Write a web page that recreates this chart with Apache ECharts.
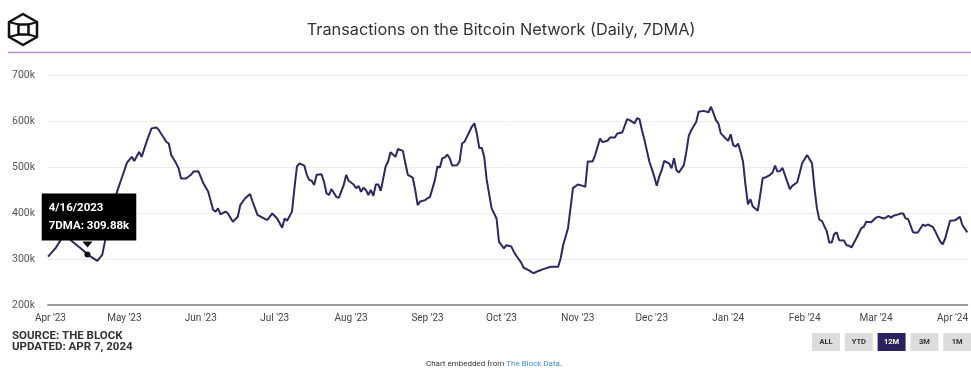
<!DOCTYPE html>
<html>
<head>
<meta charset="utf-8">
<script src="https://cdn.jsdelivr.net/npm/echarts@6/dist/echarts.min.js"></script>
<style>
  html, body { margin: 0; padding: 0; background: #fff; }
  #chart { width: 971px; height: 368px; }
</style>
</head>
<body>
<div id="chart"></div>
<script>
// daily 7DMA transactions (thousands), sampled off the chart
const days = [
  '2023-03-31','2023-04-03','2023-04-05','2023-04-07','2023-04-09','2023-04-14','2023-04-16','2023-04-20','2023-04-22','2023-04-23','2023-04-24','2023-04-26','2023-04-28',
  '2023-05-01','2023-05-02','2023-05-04','2023-05-05','2023-05-07','2023-05-08','2023-05-10','2023-05-12','2023-05-14','2023-05-15','2023-05-18','2023-05-19','2023-05-20','2023-05-22','2023-05-23','2023-05-24','2023-05-26','2023-05-28','2023-05-29','2023-05-31',
  '2023-06-02','2023-06-04','2023-06-06','2023-06-07','2023-06-08','2023-06-09','2023-06-11','2023-06-12','2023-06-14','2023-06-16','2023-06-17','2023-06-19','2023-06-21','2023-06-22','2023-06-24','2023-06-27','2023-06-28','2023-06-30',
  '2023-07-02','2023-07-04','2023-07-05','2023-07-06','2023-07-08','2023-07-09','2023-07-10','2023-07-11','2023-07-13','2023-07-14','2023-07-15','2023-07-16','2023-07-17','2023-07-18','2023-07-20','2023-07-21','2023-07-22','2023-07-23','2023-07-24','2023-07-26','2023-07-27','2023-07-29','2023-07-30','2023-07-31',
  '2023-08-02','2023-08-03','2023-08-04','2023-08-05','2023-08-06','2023-08-07','2023-08-08','2023-08-09','2023-08-10','2023-08-11','2023-08-12','2023-08-13','2023-08-15','2023-08-16','2023-08-17','2023-08-19','2023-08-20','2023-08-22','2023-08-23','2023-08-24','2023-08-26','2023-08-27','2023-08-28','2023-08-29','2023-08-31',
  '2023-09-01','2023-09-02','2023-09-04','2023-09-05','2023-09-06','2023-09-07','2023-09-08','2023-09-09','2023-09-10','2023-09-11','2023-09-13','2023-09-14','2023-09-15','2023-09-16','2023-09-17','2023-09-19','2023-09-20','2023-09-21','2023-09-22','2023-09-23','2023-09-24','2023-09-25','2023-09-27','2023-09-29','2023-09-30',
  '2023-10-02','2023-10-03','2023-10-05','2023-10-06','2023-10-07','2023-10-09','2023-10-10','2023-10-12','2023-10-14','2023-10-16','2023-10-18','2023-10-21','2023-10-24','2023-10-25','2023-10-26','2023-10-28','2023-10-29','2023-10-30',
  '2023-11-01','2023-11-03','2023-11-04','2023-11-05','2023-11-07','2023-11-08','2023-11-10','2023-11-11','2023-11-13','2023-11-14','2023-11-16','2023-11-17','2023-11-19','2023-11-21','2023-11-22','2023-11-24','2023-11-25','2023-11-26','2023-11-27','2023-11-28','2023-11-30',
  '2023-12-02','2023-12-03','2023-12-04','2023-12-05','2023-12-06','2023-12-08','2023-12-09','2023-12-10','2023-12-11','2023-12-12','2023-12-14','2023-12-15','2023-12-16','2023-12-17','2023-12-19','2023-12-20','2023-12-22','2023-12-24','2023-12-25','2023-12-26','2023-12-27','2023-12-28','2023-12-29','2023-12-31',
  '2024-01-01','2024-01-02','2024-01-03','2024-01-04','2024-01-05','2024-01-06','2024-01-07','2024-01-08','2024-01-09','2024-01-10','2024-01-11','2024-01-13','2024-01-14','2024-01-15','2024-01-16','2024-01-18','2024-01-19','2024-01-20','2024-01-21','2024-01-22','2024-01-23','2024-01-24','2024-01-26','2024-01-27','2024-01-29','2024-01-30','2024-01-31',
  '2024-02-02','2024-02-04','2024-02-05','2024-02-06','2024-02-07','2024-02-08','2024-02-10','2024-02-11','2024-02-12','2024-02-13','2024-02-14','2024-02-15','2024-02-17','2024-02-18','2024-02-19','2024-02-20','2024-02-22','2024-02-24','2024-02-25','2024-02-26','2024-02-28',
  '2024-03-01','2024-03-02','2024-03-04','2024-03-05','2024-03-06','2024-03-07','2024-03-08','2024-03-10','2024-03-11','2024-03-12','2024-03-13','2024-03-14','2024-03-16','2024-03-17','2024-03-18','2024-03-20','2024-03-21','2024-03-22','2024-03-24','2024-03-25','2024-03-27','2024-03-28','2024-03-29','2024-03-31',
  '2024-04-02','2024-04-04','2024-04-05','2024-04-07'
];
const tx7dma = [
  305, 323, 340, 358, 342, 320, 309.88, 296, 309, 335, 360, 400, 446,
  493, 509, 522, 513, 533, 522, 555, 584, 586, 580, 555, 551, 526, 508, 497, 475, 475, 483, 490, 491,
  465, 446, 407, 403, 410, 397, 403, 399, 381, 392, 417, 432, 441, 425, 396, 387, 385, 399,
  388, 368, 388, 383, 403, 454, 501, 508, 503, 483, 472, 470, 461, 483, 484, 468, 443, 439, 452, 435, 433, 461, 483, 470,
  462, 454, 459, 446, 455, 450, 439, 450, 437, 462, 462, 448, 501, 512, 532, 522, 539, 535, 508, 483, 477, 450, 417, 425, 428,
  432, 435, 472, 501, 499, 519, 521, 527, 519, 503, 504, 512, 551, 555, 566, 588, 595, 573, 541, 542, 522, 472, 410, 388, 337,
  323, 330, 327, 316, 307, 292, 281, 276, 269, 274, 278, 283, 283, 301, 330, 367, 410, 454,
  462, 459, 457, 512, 512, 526, 562, 554, 557, 564, 564, 573, 575, 604, 602, 595, 606, 604, 580, 559, 512,
  479, 459, 479, 493, 513, 508, 497, 519, 493, 488, 504, 533, 568, 580, 598, 620, 622, 619, 631, 617, 602, 595, 573, 562,
  557, 571, 548, 544, 551, 533, 512, 461, 419, 430, 414, 405, 440, 476, 477, 483, 488, 503, 490, 491, 498, 483, 452, 459, 467, 487, 508,
  526, 508, 454, 410, 385, 383, 360, 336, 336, 354, 358, 341, 340, 330, 329, 325, 345, 367, 370, 381, 380,
  390, 392, 388, 390, 394, 390, 394, 397, 399, 399, 388, 387, 358, 357, 358, 375, 372, 375, 370, 360, 338, 332, 344, 383,
  384, 392, 374, 358
];
const yTicks = [200, 300, 400, 500, 600, 700];
const ranges = ['ALL', 'YTD', '12M', '3M', '1M'];
const activeRange = '12M';
const hoverDay = '2023-04-16';

const monthNames = ['Jan','Feb','Mar','Apr','May','Jun','Jul','Aug','Sep','Oct','Nov','Dec'];
const DAY = 86400000;
const hoverIdx = days.indexOf(hoverDay);
const hp = hoverDay.split('-');
const hoverText = (+hp[1]) + '/' + (+hp[2]) + '/' + hp[0] +
  '\n7DMA: ' + tx7dma[hoverIdx].toFixed(2) + 'k';

const font = 'Roboto, "Liberation Sans", sans-serif';

// range buttons, bottom right
let buttons = [];
ranges.forEach(function (r, i) {
  let on = r === activeRange;
  buttons.push({
    type: 'rect', x: 812 + i * 32.8, y: 333, silent: true,
    shape: { width: 28, height: 18 },
    style: { fill: on ? '#2b2360' : '#dcdcdc' }
  });
  buttons.push({
    type: 'text', x: 826 + i * 32.8, y: 342, silent: true,
    style: {
      text: r, fill: on ? '#fff' : '#333', font: 'bold 7.5px ' + font,
      textAlign: 'center', textVerticalAlign: 'middle'
    }
  });
});

let dom = echarts.init(document.getElementById('chart'));
dom.setOption({
  animation: false,
  textStyle: { fontFamily: font },
  grid: { left: 48, right: 0, top: 75, bottom: 63 },
  xAxis: {
    type: 'time',
    min: '2023-03-31',
    max: '2024-04-07',
    splitNumber: 12,
    minInterval: 28 * DAY,
    maxInterval: 31 * DAY,
    axisLine: { lineStyle: { color: '#9a9a9a', width: 2 } },
    axisTick: { show: false },
    splitLine: { show: false },
    axisLabel: {
      color: '#444',
      fontSize: 10,
      margin: 8,
      hideOverlap: false,
      formatter: function (v) {
        let d = new Date(v);
        return monthNames[d.getMonth()] + " '" + String(d.getFullYear()).slice(2);
      }
    }
  },
  yAxis: {
    type: 'value',
    min: yTicks[0],
    max: yTicks[yTicks.length - 1],
    interval: 100,
    axisLine: { show: false },
    axisTick: { show: false },
    splitLine: { lineStyle: { color: '#ececec', width: 1 } },
    axisLabel: {
      color: '#555',
      fontSize: 10.5,
      margin: 13,
      formatter: '{value}k'
    }
  },
  series: [{
    name: '7DMA',
    type: 'line',
    showSymbol: false,
    silent: true,
    lineStyle: { color: '#2b2862', width: 2 },
    data: days.map(function (d, i) { return [d, tx7dma[i]]; }),
    markPoint: {
      silent: true,
      data: [
        {
          coord: [days[hoverIdx], tx7dma[hoverIdx]],
          symbol: 'triangle', symbolRotate: 180, symbolSize: [10, 6], symbolOffset: [0, -10],
          itemStyle: { color: '#000' },
          label: { show: false }
        },
        {
          coord: [days[hoverIdx], tx7dma[hoverIdx]],
          symbol: 'circle', symbolSize: 6,
          itemStyle: { color: '#111' },
          label: {
            show: true,
            position: [-42.7, -58],
            align: 'left',
            verticalAlign: 'top',
            formatter: hoverText,
            color: '#fff',
            backgroundColor: '#000',
            padding: [6, 7, 6, 7],
            lineHeight: 17.5,
            fontSize: 11.5,
            fontWeight: 'bold',
            fontFamily: font
          }
        }
      ]
    }
  }],
  graphic: [
    // logo
    {
      type: 'group', x: 0, y: 0, silent: true,
      children: [
        { type: 'polygon', shape: { points: [[23, 14], [37, 22], [37, 37], [23, 45], [9, 37], [9, 22]] },
          style: { fill: 'none', stroke: '#111', lineWidth: 2.5, lineJoin: 'round' } },
        { type: 'rect', shape: { x: 18.5, y: 24.5, width: 10, height: 10 },
          style: { fill: 'none', stroke: '#111', lineWidth: 2.5 } },
        { type: 'line', shape: { x1: 9, y1: 22, x2: 18.5, y2: 24.5 }, style: { stroke: '#111', lineWidth: 2.2 } },
        { type: 'line', shape: { x1: 37, y1: 22, x2: 28.5, y2: 24.5 }, style: { stroke: '#111', lineWidth: 2.2 } },
        { type: 'line', shape: { x1: 9, y1: 37, x2: 18.5, y2: 34.5 }, style: { stroke: '#111', lineWidth: 2.2 } },
        { type: 'line', shape: { x1: 37, y1: 37, x2: 28.5, y2: 34.5 }, style: { stroke: '#111', lineWidth: 2.2 } }
      ]
    },
    {
      type: 'line', silent: true,
      shape: { x1: 8, y1: 52.5, x2: 971, y2: 52.5 },
      style: { stroke: '#b48fdc', lineWidth: 1.5 }
    },
    {
      type: 'text', x: 501, y: 30, silent: true,
      style: {
        text: 'Transactions on the Bitcoin Network (Daily, 7DMA)',
        fill: '#333', font: '16.3px Inter, ' + font,
        textAlign: 'center', textVerticalAlign: 'middle'
      }
    },
    {
      type: 'text', x: 12, y: 336.5, silent: true,
      style: { text: 'SOURCE: THE BLOCK', fill: '#333', font: 'bold 11.5px ' + font, textVerticalAlign: 'middle' }
    },
    {
      type: 'text', x: 12, y: 347.5, silent: true,
      style: { text: 'UPDATED: APR 7, 2024', fill: '#333', font: 'bold 11.5px ' + font, textVerticalAlign: 'middle' }
    },
    {
      type: 'text', x: 494, y: 364, silent: true,
      style: {
        text: '{a|Chart embedded from }{b|The Block Data}{a|.}',
        textAlign: 'center', textVerticalAlign: 'middle',
        rich: {
          a: { fill: '#333', fontSize: 8, fontFamily: font },
          b: { fill: '#3b8fd0', fontSize: 8, fontFamily: font }
        }
      }
    }
  ].concat(buttons)
});
dom.resize();
</script>
</body>
</html>
